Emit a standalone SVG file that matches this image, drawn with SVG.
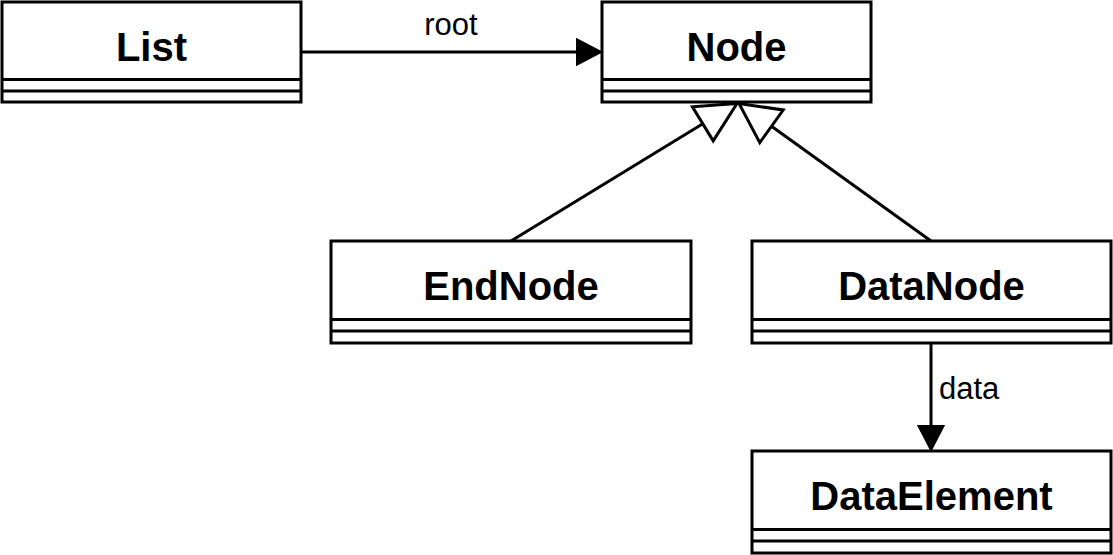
<svg xmlns="http://www.w3.org/2000/svg" width="1113" height="555" viewBox="0 0 1113 555">
<style>
.box{fill:#fff;stroke:#000;stroke-width:3}
.sep{stroke:#000;stroke-width:3;fill:none}
.title{font-family:"Liberation Sans",Arial,sans-serif;font-size:40px;font-weight:bold;text-anchor:middle;fill:#000}
.lbl{font-family:"Liberation Sans",Arial,sans-serif;font-size:31px;fill:#000}
.edge{stroke:#000;stroke-width:3;fill:none}
.head{fill:#000;stroke:#000;stroke-width:2}
.tri{fill:#fff;stroke:#000;stroke-width:3;stroke-linejoin:miter}
</style>
<rect width="1113" height="555" fill="#fff"/>
<g id="connectors">
  <line class="edge" x1="301" y1="52" x2="580" y2="52"/>
  <polygon class="head" points="601,52 577,39.5 577,64.5"/>
  <text class="lbl" x="451" y="35" text-anchor="middle">root</text>
  <line class="edge" x1="511" y1="241" x2="702.8" y2="123.7"/>
  <polygon class="tri" points="737,103.5 692.4,106.8 713.2,140.8"/>
  <line class="edge" x1="931" y1="241" x2="771.5" y2="126.3"/>
  <polygon class="tri" points="739,103.5 783.2,110 759.8,142.6"/>
  <line class="edge" x1="931" y1="343" x2="931" y2="430"/>
  <polygon class="head" points="931,450 918.5,426 943.5,426"/>
  <text class="lbl" x="939" y="399">data</text>
</g>
<g id="List">
  <rect class="box" x="2" y="2" width="299" height="100"/>
  <line class="sep" x1="2" y1="79.5" x2="301" y2="79.5"/>
  <line class="sep" x1="2" y1="91" x2="301" y2="91"/>
  <text class="title" x="151.5" y="61">List</text>
</g>
<g id="Node">
  <rect class="box" x="602" y="2" width="269" height="100"/>
  <line class="sep" x1="602" y1="79.5" x2="871" y2="79.5"/>
  <line class="sep" x1="602" y1="91" x2="871" y2="91"/>
  <text class="title" x="736.5" y="61">Node</text>
</g>
<g id="EndNode">
  <rect class="box" x="331" y="241" width="360" height="102"/>
  <line class="sep" x1="331" y1="319.5" x2="691" y2="319.5"/>
  <line class="sep" x1="331" y1="331" x2="691" y2="331"/>
  <text class="title" x="511" y="300">EndNode</text>
</g>
<g id="DataNode">
  <rect class="box" x="752" y="241" width="359" height="102"/>
  <line class="sep" x1="752" y1="319.5" x2="1111" y2="319.5"/>
  <line class="sep" x1="752" y1="331" x2="1111" y2="331"/>
  <text class="title" x="931.5" y="300">DataNode</text>
</g>
<g id="DataElement">
  <rect class="box" x="752" y="451" width="359" height="102"/>
  <line class="sep" x1="752" y1="529.5" x2="1111" y2="529.5"/>
  <line class="sep" x1="752" y1="541" x2="1111" y2="541"/>
  <text class="title" x="931.5" y="510">DataElement</text>
</g>
</svg>
